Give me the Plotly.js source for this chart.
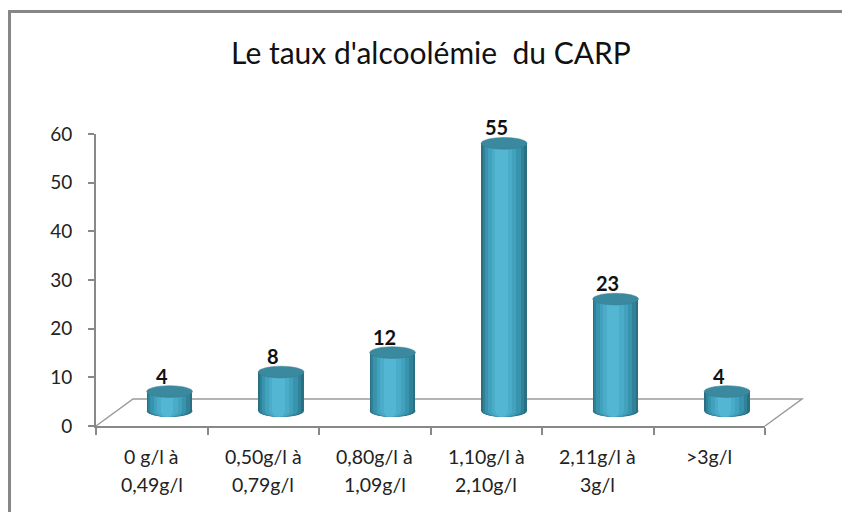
<!DOCTYPE html>
<html>
<head>
<meta charset="utf-8">
<script src="https://cdn.plot.ly/plotly-3.0.1.min.js"></script>
<style>html,body{margin:0;padding:0;background:#fff;}#chart{width:842px;height:512px;}</style>
</head>
<body>
<div id="chart"></div>
<script>
// ---- data ----
const categories = ["0 g/l à<br>0,49g/l", "0,50g/l à<br>0,79g/l", "0,80g/l à<br>1,09g/l", "1,10g/l à<br>2,10g/l", "2,11g/l à<br>3g/l", ">3g/l"];
const values = [4, 8, 12, 55, 23, 4];
const yTicks = [0, 10, 20, 30, 40, 50, 60];
const chartTitle = "Le taux d'alcoolémie  du CARP";

// ---- geometry / style (pixels) ----
const M = {l: 96, r: 77, t: 134, b: 86};
const PW = 842 - M.l - M.r, PH = 512 - M.t - M.b;
const pxX = p => (p - M.l) / PW;          // pixel -> paper x
const pxY = p => (512 - M.b - p) / PH;    // pixel -> paper y
const FONT = "Lato, 'Open Sans', sans-serif";
const AXC = "#888888";
const n = categories.length;
const idx = categories.map((c, i) => i);
const W = 0.41;          // bar width in category units
const capH = 1.2;        // half ellipse height in y2 units

const layers = [
  {l: 0.00, r: 1.00, c: "#2a6f82"},
  {l: 0.03, r: 0.94, c: "#30829a"},
  {l: 0.08, r: 0.86, c: "#3893ad"},
  {l: 0.15, r: 0.77, c: "#42a2be"},
  {l: 0.23, r: 0.68, c: "#4bacc9"},
  {l: 0.31, r: 0.58, c: "#53b6d3"}
];

const traces = [];
const shapes = [];

// floor (3D base) outline
const fl = {x0: 96, x1: 765, y: 426, dx: 37, dy: -27};
shapes.push({type: "path", xref: "paper", yref: "paper", layer: "below",
  path: `M ${pxX(fl.x0)} ${pxY(fl.y)} L ${pxX(fl.x0 + fl.dx)} ${pxY(fl.y + fl.dy)} L ${pxX(fl.x1 + fl.dx)} ${pxY(fl.y + fl.dy)} L ${pxX(fl.x1)} ${pxY(fl.y)}`,
  line: {color: "#9a9a9a", width: 1.5}});

layers.forEach((L, k) => {
  traces.push({type: "bar", x: idx, y: values, xaxis: "x2", yaxis: "y2",
    width: (L.r - L.l) * W, offset: -W / 2 + L.l * W,
    marker: {color: L.c, line: {width: 0}}, hoverinfo: "skip", showlegend: false});
  idx.forEach(i => {
    shapes.push({type: "circle", xref: "x2", yref: "y2", layer: "below",
      x0: i - W / 2 + L.l * W, x1: i - W / 2 + L.r * W, y0: -capH, y1: capH,
      fillcolor: L.c, line: {width: 0}});
  });
});
// top caps
idx.forEach(i => {
  shapes.push({type: "circle", xref: "x2", yref: "y2", layer: "above",
    x0: i - W / 2, x1: i + W / 2, y0: values[i] - capH, y1: values[i] + capH,
    fillcolor: "#3a899e", line: {color: "#347d91", width: 0.5}});
});

// outer chart border (left + top)
shapes.push({type: "path", xref: "paper", yref: "paper", layer: "above",
  path: `M ${pxX(9.5)} ${pxY(520)} L ${pxX(9.5)} ${pxY(11.5)} L ${pxX(850)} ${pxY(11.5)}`,
  line: {color: "#878787", width: 3}});

const annotations = [];
// data labels
idx.forEach(i => {
  annotations.push({xref: "x2", yref: "y2", x: i, y: values[i], text: String(values[i]),
    showarrow: false, yanchor: "middle", xshift: -8, yshift: 16,
    font: {family: FONT, size: 20, color: "#111", weight: "bold"}});
});
// category labels (two lines)
categories.forEach((c, i) => {
  c.split("<br>").forEach((t, j) => {
    annotations.push({xref: "x", yref: "paper", x: i, y: 0, text: t, showarrow: false,
      yanchor: "middle", yshift: -30 - 28 * j,
      font: {family: FONT, size: 19.5, color: "#222"}});
  });
});

const boundaries = [];
for (let i = 0; i <= n; i++) boundaries.push(i - 0.5);

const layout = {
  width: 842, height: 512, margin: M,
  paper_bgcolor: "#ffffff", plot_bgcolor: "rgba(0,0,0,0)",
  title: {text: chartTitle, x: 431 / 842, xanchor: "center", xref: "container",
    y: 1 - 53 / 512, yanchor: "middle", yref: "container",
    font: {family: FONT, size: 30, color: "#111"}},
  barmode: "overlay", bargap: 0, showlegend: false,
  xaxis: {range: [-0.5, n - 0.5], tickvals: boundaries, showticklabels: false,
    ticks: "outside", ticklen: 7, tickwidth: 2, tickcolor: AXC,
    showline: true, linecolor: AXC, linewidth: 2, showgrid: false, zeroline: false, fixedrange: true},
  xaxis2: {overlaying: "x", range: [-0.66, n - 0.66], visible: false, fixedrange: true},
  yaxis: {range: [0, 60], tickvals: yTicks, ticks: "outside", ticklen: 6, tickwidth: 2, tickcolor: AXC,
    showline: true, linecolor: AXC, linewidth: 2, showgrid: false, zeroline: false,
    tickfont: {family: FONT, size: 19, color: "#222"}, ticklabelstandoff: 12, fixedrange: true},
  yaxis2: {overlaying: "y", range: [-3.08, 56.92], visible: false, fixedrange: true},
  shapes: shapes, annotations: annotations
};

Plotly.newPlot("chart", traces, layout, {staticPlot: true, displayModeBar: false});
</script>
</body>
</html>
